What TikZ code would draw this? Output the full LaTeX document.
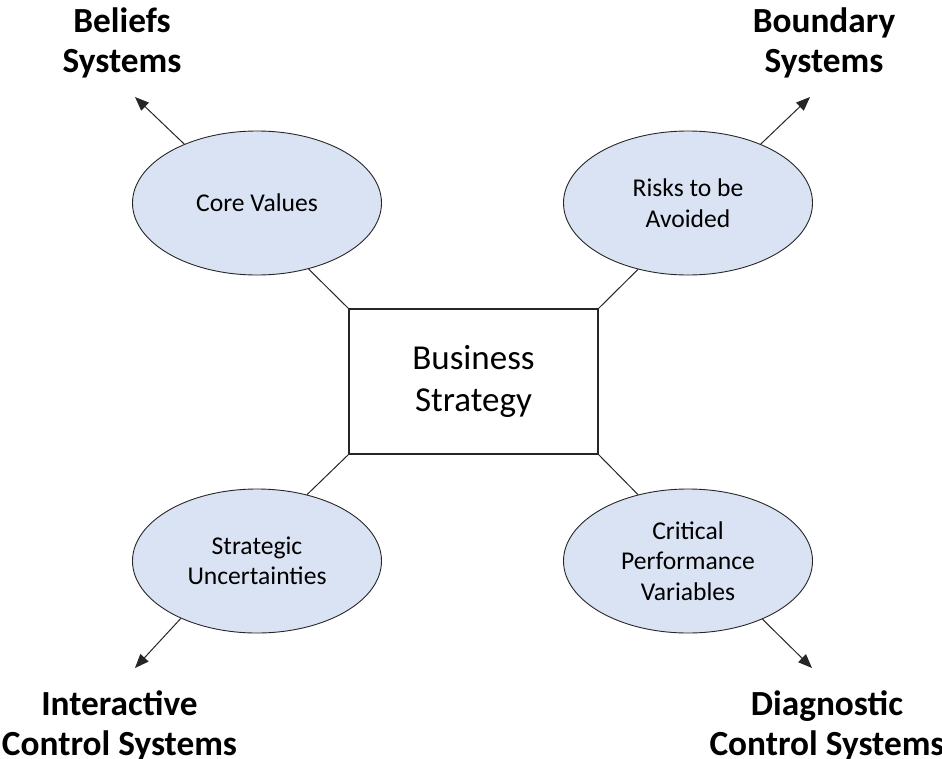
\documentclass[tikz,border=0pt]{standalone}
\usepackage{fontspec}
\setmainfont{Carlito}
\usetikzlibrary{arrows.meta,shapes.geometric}
\definecolor{lever}{HTML}{DAE3F3}
\tikzset{
  lever/.style={ellipse, draw=black!85, line width=0.9pt, fill=lever,
    minimum width=249pt, minimum height=144pt, inner sep=0pt, align=center,
    font=\fontsize{25.6}{30.5}\selectfont},
  core/.style={rectangle, draw=black!85, line width=1.1pt, fill=white,
    minimum width=249pt, minimum height=145pt, inner sep=0pt, align=center,
    font=\fontsize{35}{42}\selectfont},
  system/.style={inner sep=0pt, align=center,
    font=\fontsize{35.3}{40.5}\selectfont\bfseries},
  link/.style={draw=black!85, line width=1pt},
  outarrow/.style={link, -{Triangle[length=14pt,width=11pt]}}
}
\begin{document}
\begin{tikzpicture}[x=1pt,y=-1pt]
\useasboundingbox (0,0) rectangle (942,758);

% central strategy box
\node[core] (bs) at (473.5,381.5) {Business\\Strategy};

% the four levers
\node[lever] (cv) at (257,203) {Core Values};
\node[lever] (ra) at (688,203) {Risks to be\\Avoided};
\node[lever] (su) at (257,561) {Strategic\\Uncertainties};
\node[lever] (cp) at (688,561) {Critical\\Performance\\Variables};

% control system labels
\node[system] (beliefs) at (122,43) {Beliefs\\Systems};
\node[system] (boundary) at (824,43) {Boundary\\Systems};
\node[system] (interactive) at (119.5,726) {Interactive\\Control Systems};
\node[system] (diagnostic) at (827,726) {Diagnostic\\Control Systems};

% arrow tips pointing at the labels
\coordinate (tbel) at (135,97);
\coordinate (tbou) at (810,97);
\coordinate (tint) at (135,668);
\coordinate (tdia) at (812,668);

% strategy box to levers
\draw[link] (bs.north west) -- (cv.-52);
\draw[link] (bs.north east) -- (ra.-127.5);
\draw[link] (bs.south west) -- (su.53);
\draw[link] (bs.south east) -- (cp.127);

% levers to control systems
\draw[outarrow] (cv.141) -- (tbel);
\draw[outarrow] (ra.39) -- (tbou);
\draw[outarrow] (su.217) -- (tint);
\draw[outarrow] (cp.-38) -- (tdia);
\end{tikzpicture}
\end{document}
